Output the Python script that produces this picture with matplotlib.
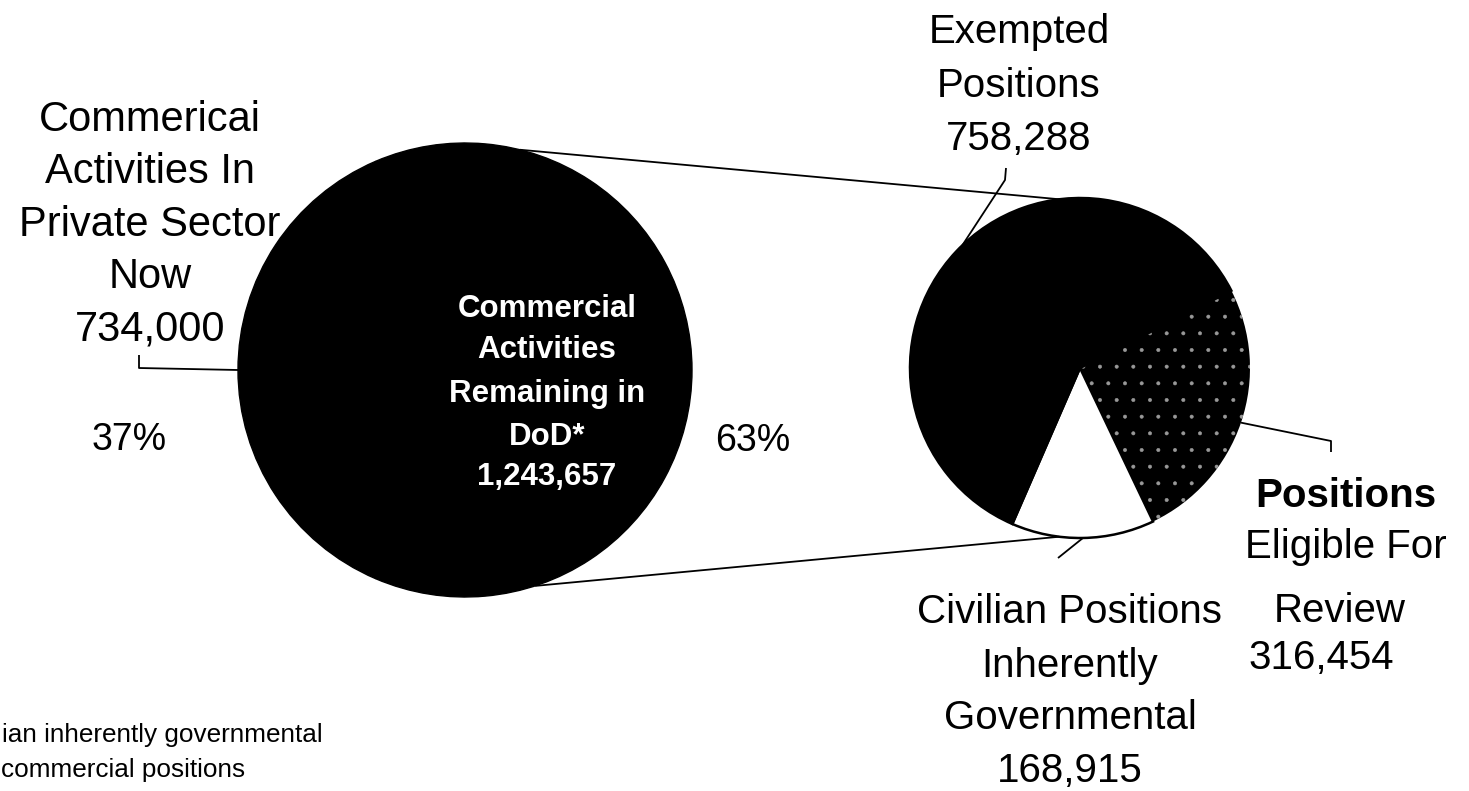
import matplotlib
matplotlib.use("Agg")
import matplotlib.pyplot as plt
import numpy as np

# ---- data -------------------------------------------------------------
outer_labels = ["Commericai\nActivities In\nPrivate Sector\nNow",
                "Commercial\nActivities\nRemaining in\nDoD*"]
outer_values = [734000, 1243657]
outer_pct = ["37%", "63%"]

inner_labels = ["Civilian Positions\nInherently\nGovernmental",
                "Positions\nEligible For\nReview",
                "Exempted\nPositions"]
inner_values = [168915, 316454, 758288]

footnote = ["ian inherently governmental",
            "commercial positions"]

# ---- figure -----------------------------------------------------------
W, H = 1469, 791
plt.rcParams['font.family'] = ['Liberation Sans', 'DejaVu Sans']
plt.rcParams['hatch.linewidth'] = 0.4

fig = plt.figure(figsize=(W / 100, H / 100), dpi=100)
ax = fig.add_axes([0, 0, 1, 1])


def Y(y):
    """top-down pixel row -> data y"""
    return H - y


def fmt(v):
    return f"{v:,}"


def on_circle(c, r, ang):
    a = np.deg2rad(ang)
    return c[0] + r * np.cos(a), c[1] + r * np.sin(a)


outer_c, outer_r = (465, Y(370)), 227
inner_c, inner_r = (1080, Y(368)), 170

# left pie: private-sector share centred on the left side
share = outer_values[0] / sum(outer_values)
w_out, _ = ax.pie(outer_values, colors=['black', 'black'],
                  startangle=180 - share * 180, center=outer_c,
                  radius=outer_r,
                  wedgeprops=dict(linewidth=1.0, edgecolor='black'),
                  frame=True)

# right pie: breakdown of the activities remaining in DoD
ishare = inner_values[0] / sum(inner_values)
w_in, _ = ax.pie(inner_values, colors=['white', 'black', 'black'],
                 startangle=271 - ishare * 180, center=inner_c,
                 radius=inner_r,
                 wedgeprops=dict(linewidth=1.8, edgecolor='black'),
                 frame=True)
# stippled wedge
w_in[1].set_edgecolor('0.6')
w_in[1].set_linewidth(0)
w_in[1].set_hatch('.')

ax.set_xlim(0, W)
ax.set_ylim(0, H)
ax.set_aspect('equal')
ax.axis('off')

lk = dict(color='black', lw=1.3, solid_capstyle='butt')

# connector lines between the two pies
for a_out, a_in in [(76, 97), (-72, 263)]:
    p = on_circle(outer_c, outer_r, a_out)
    q = on_circle(inner_c, inner_r, a_in)
    ax.plot([p[0], q[0]], [p[1], q[1]], **lk)


def mid(w):
    return (w.theta1 + w.theta2) / 2


# leader lines
p = on_circle(outer_c, outer_r, mid(w_out[0]))
ax.plot([p[0], 139, 139], [p[1], Y(368), Y(355)], **lk)

p = on_circle(inner_c, inner_r, mid(w_in[2]) - 3)
ax.plot([p[0], 1005, 1006], [p[1], Y(180), Y(168)], **lk)

p = on_circle(inner_c, inner_r, mid(w_in[1]))
ax.plot([p[0], 1331, 1331], [p[1], Y(441), Y(452)], **lk)

p = on_circle(inner_c, inner_r, mid(w_in[0]))
ax.plot([p[0], 1058], [p[1], Y(558)], **lk)


def lines(x, baselines, texts, size, weights=None, color='black'):
    for i, (b, t) in enumerate(zip(baselines, texts)):
        wt = weights[i] if weights else 'normal'
        ax.text(x, Y(b), t, ha='center', va='baseline', fontsize=size,
                color=color, fontweight=wt)


# left pie labels
lines(150, [131, 183, 236, 288, 340],
      outer_labels[0].split("\n") + [fmt(outer_values[0])], 30)
lines(547, [317, 358, 402, 445, 485],
      outer_labels[1].split("\n") + [fmt(outer_values[1])], 22.5,
      weights=['bold'] * 5, color='white')
ax.text(129, Y(450), outer_pct[0], ha='center', va='baseline', fontsize=27)
ax.text(753, Y(451), outer_pct[1], ha='center', va='baseline', fontsize=27)

# right pie labels
lines(1019, [43, 97, 150],
      inner_labels[2].split("\n") + [fmt(inner_values[2])], 29)
el = inner_labels[1].split("\n")
lines(1346, [507, 558], el[:2], 29, weights=['bold', 'normal'])
lines(1340, [622], el[2:], 29)
lines(1321, [669], [fmt(inner_values[1])], 29)
lines(1070, [623, 677, 729, 782],
      inner_labels[0].split("\n") + [fmt(inner_values[0])], 29)

# footnote
ax.text(2, Y(742), footnote[0], ha='left', va='baseline', fontsize=18.8)
ax.text(1, Y(777), footnote[1], ha='left', va='baseline', fontsize=18.8)

fig.savefig("out.png", dpi=100)
